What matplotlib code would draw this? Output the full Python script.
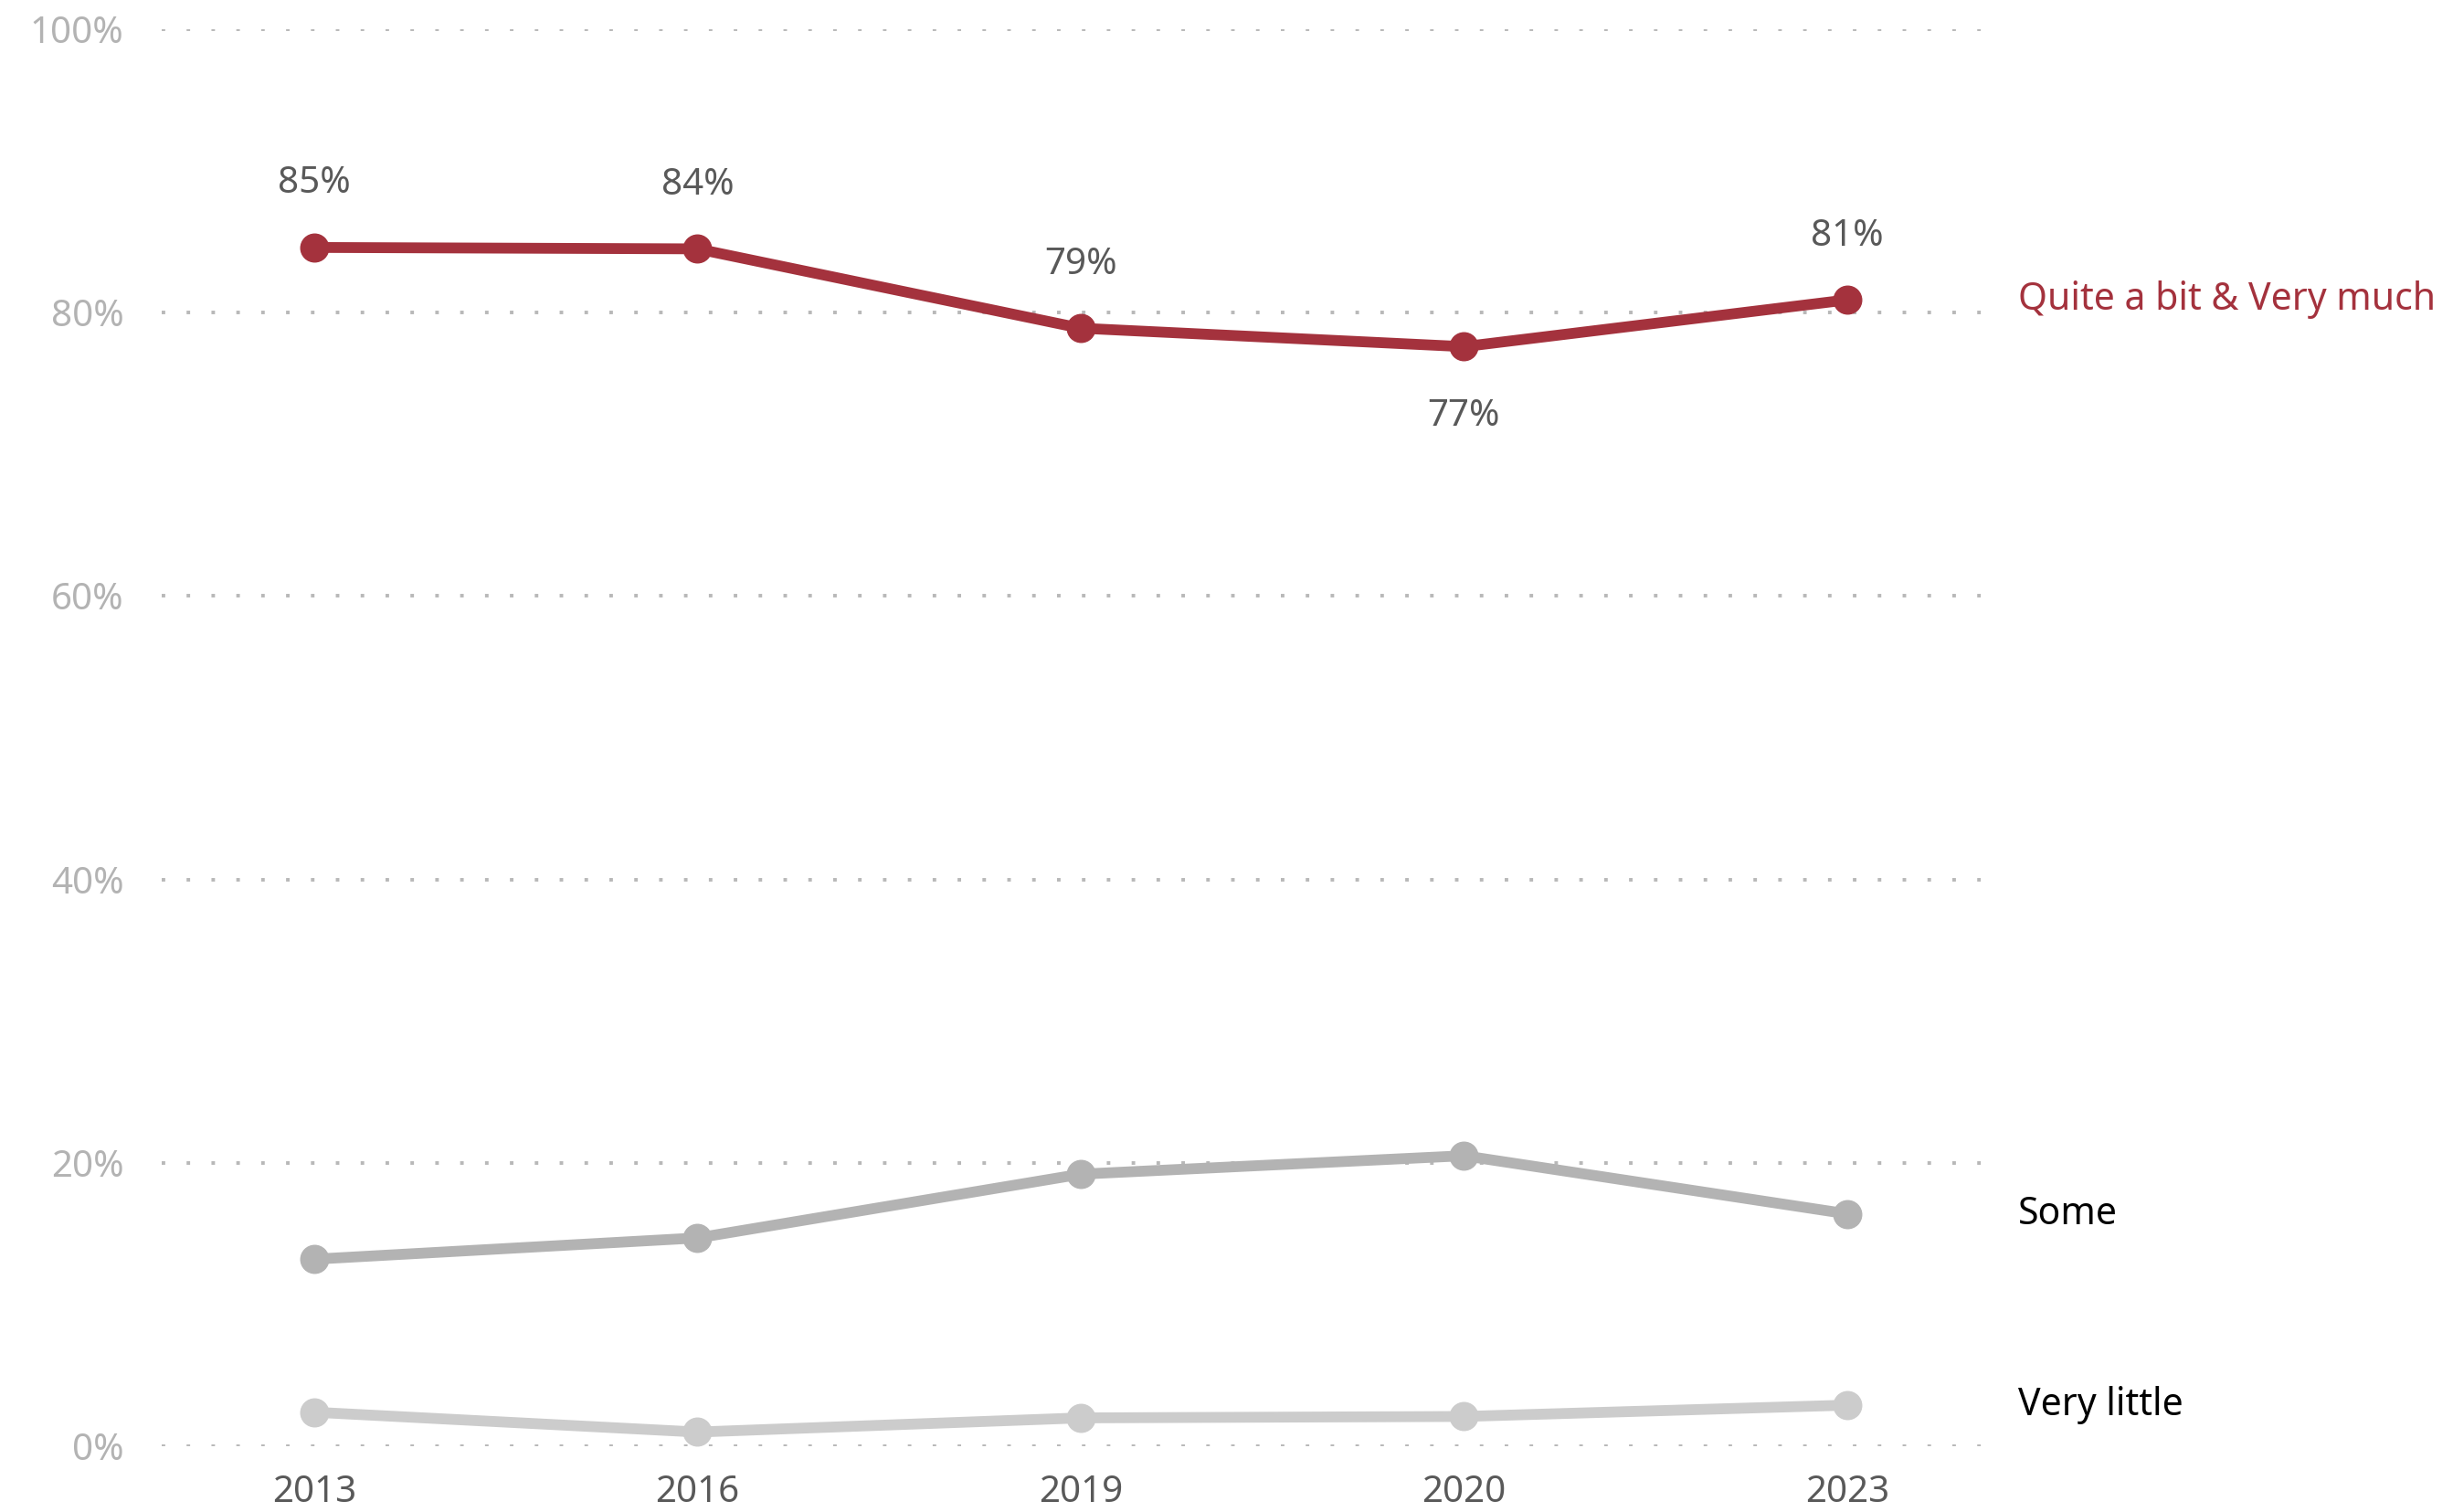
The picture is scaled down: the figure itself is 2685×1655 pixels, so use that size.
import matplotlib
matplotlib.use("Agg")
import matplotlib.pyplot as plt

plt.rcParams['font.family'] = ['Noto Sans', 'DejaVu Sans']

years = ["2013", "2016", "2019", "2020", "2023"]
quite_a_bit = [84.6, 84.5, 78.9, 77.6, 80.9]
some = [13.2, 14.7, 19.2, 20.5, 16.4]
very_little = [2.4, 1.0, 2.0, 2.1, 2.9]
top_labels = ["85%", "84%", "79%", "77%", "81%"]
label_below = [False, False, False, True, False]

red = "#a4323d"
grey_some = "#b3b3b3"
grey_little = "#cccccc"

fig = plt.figure(figsize=(26.85, 16.55), dpi=100)
ax = fig.add_axes([177 / 2685, 1 - 1583 / 1655, (2178 - 177) / 2685, (1583 - 32) / 1655])

x = list(range(len(years)))

# grid first so lines sit on top
for v in [0, 20, 40, 60, 80, 100]:
    ax.axhline(v, color="#b8b8b8", lw=2.8, linestyle=(0, (1, 6)), zorder=0)

ax.plot(x, very_little, color=grey_little, lw=8.5, marker="o", markersize=22, zorder=2)
ax.plot(x, some, color=grey_some, lw=8.5, marker="o", markersize=22, zorder=3)
ax.plot(x, quite_a_bit, color=red, lw=8.5, marker="o", markersize=22, zorder=4)

for i, (val, lab) in enumerate(zip(quite_a_bit, top_labels)):
    off = -55 if label_below[i] else 50
    ax.annotate(lab, (i, val), xytext=(0, off), textcoords="offset points",
                ha="center", va="center", fontsize=29, color="#595959")

# series names on the right
ax.text(4.445, quite_a_bit[-1], "Quite a bit & Very much", color=red, fontsize=29.5,
        va="center", ha="left", clip_on=False)
ax.text(4.445, some[-1], "Some", color="black", fontsize=29.5, va="center", ha="left", clip_on=False)
ax.text(4.445, very_little[-1], "Very little", color="black", fontsize=29.5,
        va="center", ha="left", clip_on=False)

ax.set_xlim(-0.398, 4.372)
ax.set_ylim(0, 100)
ax.set_xticks(x)
ax.set_xticklabels(years, fontsize=29, color="#595959")
ax.set_yticks([0, 20, 40, 60, 80, 100])
ax.set_yticklabels(["0%", "20%", "40%", "60%", "80%", "100%"], fontsize=29, color="#b3b3b3")
ax.tick_params(axis="both", length=0)
ax.tick_params(axis="y", pad=30)
ax.tick_params(axis="x", pad=22)
for s in ax.spines.values():
    s.set_visible(False)

fig.savefig("out.png", dpi=100)
